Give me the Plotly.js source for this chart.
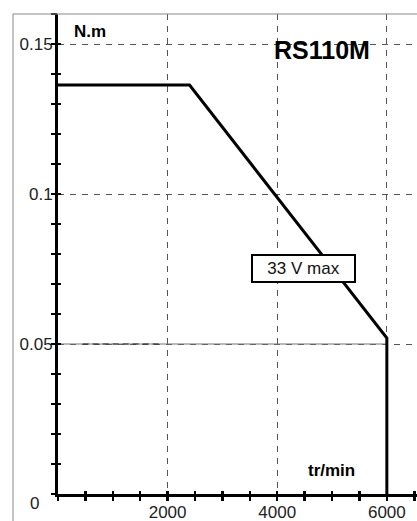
<!DOCTYPE html>
<html>
<head>
<meta charset="utf-8">
<script src="https://cdn.plot.ly/plotly-3.0.1.min.js"></script>
<style>html,body{margin:0;padding:0;background:#fff;}#chart{width:417px;height:521px;}</style>
</head>
<body>
<div id="chart"></div>
<script>
// Data
const curveSpeed = [0, 2400, 6000, 6000];          // tr/min
const curveTorque = [0.1363, 0.1363, 0.052, 0];    // N.m
const xTickVals = [2000, 4000, 6000];
const xTickText = ['2000', '4000', '6000'];
const yTickVals = [0.05, 0.1, 0.15];
const yTickText = ['0.05', '0.1', '0.15'];
const refLineX = [0, 6000];
const refLineY = [0.05, 0.05];
const refDashX = [450, 1850];
const refDashY = [0.05, 0.05];
const title = 'RS110M';
const curveLabel = '33 V max';

const xMax = 6550, yMax = 0.16;
const font = 'Liberation Sans, Arial, Helvetica, sans-serif';

const traces = [
  {x: refLineX, y: refLineY, mode: 'lines', line: {color: '#777', width: 1.2}, hoverinfo: 'skip'},
  {x: refDashX, y: refDashY, mode: 'lines', line: {color: '#222', width: 1.2, dash: '6px,4px'}, hoverinfo: 'skip'},
  {x: curveSpeed, y: curveTorque, mode: 'lines', line: {color: '#000', width: 3}, hoverinfo: 'skip'},
  {x: curveSpeed, y: curveTorque, xaxis: 'x2', yaxis: 'y2', mode: 'lines', line: {color: 'rgba(0,0,0,0)', width: 0}, hoverinfo: 'skip'}
];

const tickFont = {family: font, size: 17, color: '#222'};

const layout = {
  width: 417, height: 521,
  margin: {l: 58, r: 0, t: 14, b: 27, pad: 0},
  paper_bgcolor: '#fff', plot_bgcolor: 'rgba(0,0,0,0)',
  showlegend: false,
  xaxis: {
    domain: [0, 1], anchor: 'y',
    range: [0, xMax], fixedrange: true,
    tickmode: 'array', tickvals: xTickVals, ticktext: xTickText,
    ticks: 'inside', ticklen: 3, tickwidth: 2.5, tickcolor: '#000',
    minor: {tickmode: 'linear', tick0: 0, dtick: 500, ticks: 'inside', ticklen: 3, tickwidth: 2.5, tickcolor: '#000', showgrid: false},
    showgrid: true, gridcolor: '#555', gridwidth: 1, griddash: '6px,6px',
    showline: true, linecolor: '#000', linewidth: 3,
    zeroline: false, tickfont: tickFont, ticklabelstandoff: 1
  },
  yaxis: {
    domain: [0, 1], anchor: 'x',
    range: [0, yMax], fixedrange: true,
    tickmode: 'array', tickvals: yTickVals, ticktext: yTickText,
    ticks: 'inside', ticklen: 3, tickwidth: 2.5, tickcolor: '#000',
    minor: {tickmode: 'linear', tick0: 0, dtick: 0.01, ticks: 'inside', ticklen: 3, tickwidth: 2.5, tickcolor: '#000', showgrid: false},
    showgrid: true, gridcolor: '#555', gridwidth: 1, griddash: '6px,6px',
    showline: true, linecolor: '#000', linewidth: 3,
    zeroline: false, tickfont: tickFont, ticklabelstandoff: -1
  },
  xaxis2: {
    domain: [0, 1], anchor: 'y2', side: 'bottom', range: [0, xMax], fixedrange: true,
    tickmode: 'linear', tick0: 0, dtick: 500, ticks: 'outside', ticklen: 6, tickwidth: 2.5, tickcolor: '#000',
    showticklabels: false, showgrid: false, showline: false, zeroline: false
  },
  yaxis2: {
    domain: [0, 1], anchor: 'x2', side: 'left', range: [0, yMax], fixedrange: true,
    tickmode: 'linear', tick0: 0, dtick: 0.01, ticks: 'outside', ticklen: 6, tickwidth: 2.5, tickcolor: '#000',
    showticklabels: false, showgrid: false, showline: false, zeroline: false
  },
  shapes: [
    {type: 'line', xref: 'paper', yref: 'paper', x0: -0.1253, x1: -0.1253, y0: 1, y1: -0.06, line: {color: '#888', width: 1}},
    {type: 'line', xref: 'paper', yref: 'paper', x0: -0.1253, x1: 1.01, y0: 1, y1: 1, line: {color: '#888', width: 1}}
  ],
  annotations: [
    {text: '<b>N.m</b>', x: 255, y: 0.1543, xref: 'x', yref: 'y', xanchor: 'left', yanchor: 'middle', showarrow: false,
     font: {family: font, size: 17, color: '#000'}},
    {text: '<b>' + title + '</b>', x: 4819, y: 0.148, xref: 'x', yref: 'y', xanchor: 'center', yanchor: 'middle', showarrow: false,
     font: {family: font, size: 25, color: '#000'}},
    {text: '<b>tr/min</b>', x: 4984, y: 0.008, xref: 'x', yref: 'y', xanchor: 'center', yanchor: 'middle', showarrow: false,
     font: {family: font, size: 17, color: '#000'}},
    {text: curveLabel, x: 4472, y: 0.0753, xref: 'x', yref: 'y', xanchor: 'center', yanchor: 'middle', showarrow: false,
     font: {family: font, size: 17, color: '#111'}, bgcolor: '#fff', bordercolor: '#000', borderwidth: 2, borderpad: 2,
     width: 97, height: 21},
    {text: '0', x: -0.066, y: -0.019, xref: 'paper', yref: 'paper', xanchor: 'center', yanchor: 'middle', showarrow: false,
     font: tickFont}
  ]
};

Plotly.newPlot('chart', traces, layout, {displayModeBar: false, staticPlot: true});
</script>
</body>
</html>
